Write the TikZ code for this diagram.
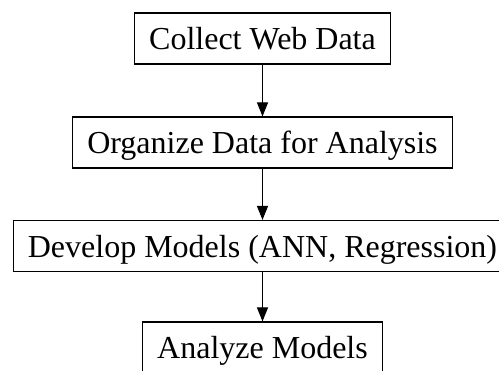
\documentclass[tikz,border=0pt]{standalone}
\usepackage{fontspec}
\setmainfont{Liberation Serif}
\usetikzlibrary{arrows.meta}
\begin{document}
\begin{tikzpicture}[x=1pt,y=1pt,
  stage/.style={draw, line width=1.1pt, inner xsep=14.5pt, inner ysep=0pt,
    minimum height=51pt, text height=23pt, text depth=0pt,
    font=\fontsize{32}{38}\selectfont},
  flow/.style={line width=1.1pt, -{Triangle[width=11pt,length=14pt]}}]
\clip (0,0) rectangle (499,371);
\node[stage] (collect)  at (262.5,332.5) {Collect Web Data};
\node[stage] (organize) at (262.5,228.5) {Organize Data for Analysis};
\node[stage] (develop)  at (262.5,125)   {Develop Models (ANN, Regression)};
\node[stage] (analyze)  at (262.5,23.5)  {Analyze Models};
\draw[flow] (collect) -- (organize);
\draw[flow] (organize) -- (develop);
\draw[flow] (develop) -- (analyze);
\end{tikzpicture}
\end{document}
